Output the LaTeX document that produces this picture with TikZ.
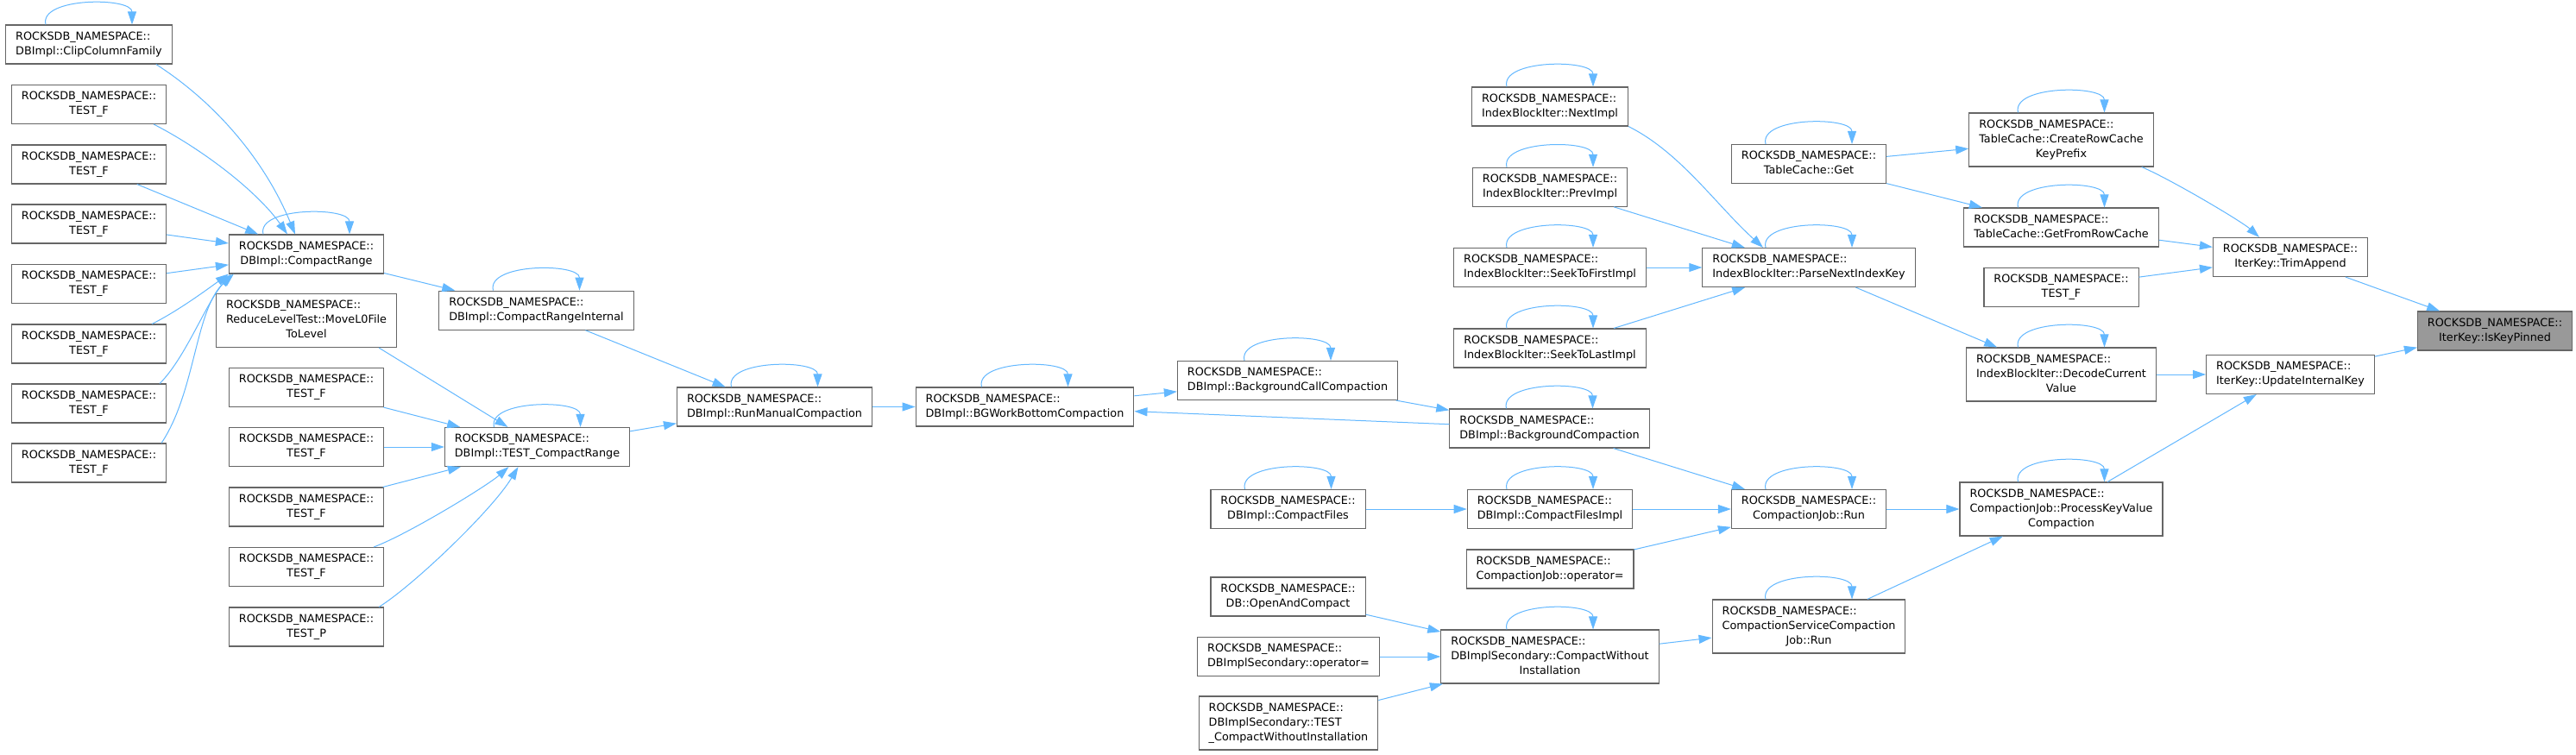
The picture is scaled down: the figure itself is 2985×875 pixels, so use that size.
\documentclass[tikz,border=0pt]{standalone}
\usepackage{fontspec}
\newfontfamily\doxfont{DejaVu Sans}
\usetikzlibrary{arrows.meta}
\definecolor{doxBlue}{HTML}{63B8FF}
\definecolor{doxBorder}{HTML}{666666}
\definecolor{doxFill}{HTML}{999999}
% two and three line labels, doxygen style
\newcommand{\fnA}[1]{\begin{tabular}{@{}l@{}}ROCKSDB\_NAMESPACE::\\\multicolumn{1}{@{}c@{}}{#1}\end{tabular}}
\newcommand{\fnB}[2]{\begin{tabular}{@{}l@{}}ROCKSDB\_NAMESPACE::\\#1\\\multicolumn{1}{@{}c@{}}{#2}\end{tabular}}
\tikzset{
  arrowC/.style={-{Triangle[length=15pt,width=10pt]}, doxBlue, line width=1pt},
  boxF/.style={rectangle, draw=doxBorder, fill=white, line width=1.1pt,
               inner xsep=11.5pt, inner ysep=5.5pt,
               font=\doxfont\fontsize{12.8}{17}\selectfont},
  boxHi/.style={boxF, fill=doxFill},
}
\begin{document}
\begin{tikzpicture}[x=1pt, y=1pt]
  \path[use as bounding box, fill=white] (0,0) rectangle (2985,-875);
  % first column
  \node[boxF] (cf) at (103,-51.5) {\fnA{DBImpl::ClipColumnFamily}};
  \foreach \i/\y in {1/121,2/190.5,3/259.5,4/329,5/398.5,6/467.5,7/536.5}
    \node[boxF] (tfa\i) at (103,-\y) {\fnA{TEST\_F}};
  % second column
  \node[boxF] (cr) at (355,-294.5) {\fnA{DBImpl::CompactRange}};
  \node[boxF] (rlt) at (355,-371.5) {\fnB{ReduceLevelTest::MoveL0File}{ToLevel}};
  \foreach \i/\y in {1/449,2/518,3/587.5,4/657}
    \node[boxF] (tfb\i) at (355,-\y) {\fnA{TEST\_F}};
  \node[boxF] (tp) at (355,-726.5) {\fnA{TEST\_P}};
  % third to fifth column
  \node[boxF] (cri) at (621.5,-359.7) {\fnA{DBImpl::CompactRangeInternal}};
  \node[boxF] (tcr) at (622.5,-518) {\fnA{DBImpl::TEST\_CompactRange}};
  \node[boxF] (rmc) at (897.5,-471.5) {\fnA{DBImpl::RunManualCompaction}};
  \node[boxF] (bgw) at (1187.5,-471.5) {\fnA{DBImpl::BGWorkBottomCompaction}};
  % sixth column
  \node[boxF] (bcc) at (1492,-441) {\fnA{DBImpl::BackgroundCallCompaction}};
  \node[boxF] (cfs) at (1492.5,-590) {\fnA{DBImpl::CompactFiles}};
  \node[boxF] (oac) at (1492.5,-691.5) {\fnA{DB::OpenAndCompact}};
  \node[boxF] (dso) at (1493,-761) {\fnA{DBImplSecondary::operator=}};
  \node[boxF] (dst) at (1493,-838) {\fnB{DBImplSecondary::TEST}{\_CompactWithoutInstallation}};
  % seventh column
  \node[boxF] (ni) at (1796,-123.5) {\fnA{IndexBlockIter::NextImpl}};
  \node[boxF] (pi) at (1796,-216.8) {\fnA{IndexBlockIter::PrevImpl}};
  \node[boxF] (sfi) at (1796,-310) {\fnA{IndexBlockIter::SeekToFirstImpl}};
  \node[boxF] (sli) at (1796,-403.5) {\fnA{IndexBlockIter::SeekToLastImpl}};
  \node[boxF] (bgc) at (1795.5,-496.5) {\fnA{DBImpl::BackgroundCompaction}};
  \node[boxF] (cfi) at (1796,-590) {\fnA{DBImpl::CompactFilesImpl}};
  \node[boxF] (cjo) at (1796,-659.5) {\fnA{CompactionJob::operator=}};
  \node[boxF] (cwi) at (1796,-761) {\fnB{DBImplSecondary::CompactWithout}{Installation}};
  % eighth column
  \node[boxF] (tcg) at (2096,-190) {\fnA{TableCache::Get}};
  \node[boxF] (pnk) at (2096,-310) {\fnA{IndexBlockIter::ParseNextIndexKey}};
  \node[boxF] (cjr) at (2096,-590) {\fnA{CompactionJob::Run}};
  \node[boxF] (csr) at (2096,-726) {\fnB{CompactionServiceCompaction}{Job::Run}};
  % ninth column
  \node[boxF] (crk) at (2388.5,-162) {\fnB{TableCache::CreateRowCache}{KeyPrefix}};
  \node[boxF] (gfr) at (2388.5,-263.5) {\fnA{TableCache::GetFromRowCache}};
  \node[boxF] (tfc) at (2388.5,-333) {\fnA{TEST\_F}};
  \node[boxF] (dcv) at (2388.5,-434) {\fnB{IndexBlockIter::DecodeCurrent}{Value}};
  \node[boxF] (pkv) at (2388.5,-590) {\fnB{CompactionJob::ProcessKeyValue}{Compaction}};
  % last columns
  \node[boxF] (ta) at (2654,-298) {\fnA{IterKey::TrimAppend}};
  \node[boxF] (uik) at (2654,-434) {\fnA{IterKey::UpdateInternalKey}};
  \node[boxHi] (ikp) at (2891,-383.5) {\fnA{IterKey::IsKeyPinned}};

  % callers of CompactRange
  \draw[arrowC] ([xshift=-19pt]cf.south east) .. controls +(70,-45) and +(-35,85) .. ([xshift=-13pt]cr.north);
  \draw[arrowC] ([xshift=-15pt]tfa1.south east) .. controls +(55,-28) and +(-35,50) .. ([xshift=-22pt]cr.north);
  \foreach \i in {2,3,4}
    \draw[arrowC] (tfa\i) -- (cr);
  \draw[arrowC] ([xshift=-17pt]tfa5.north east) .. controls +(30,15) and +(-25,-18) .. (cr.south west);
  \draw[arrowC] ([xshift=-8pt]tfa6.north east) .. controls +(30,30) and +(-30,-35) .. ([xshift=3pt]cr.south west);
  \draw[arrowC] ([xshift=-6pt]tfa7.north east) .. controls +(40,60) and +(-45,-40) .. ([xshift=6pt]cr.south west);
  % callers of TEST_CompactRange
  \draw[arrowC] ([xshift=-21pt]rlt.south east) -- ([xshift=-34pt]tcr.north);
  \foreach \i in {1,2,3}
    \draw[arrowC] (tfb\i) -- (tcr);
  \draw[arrowC] ([xshift=-12pt]tfb4.north east) .. controls +(40,15) and +(-25,-22) .. ([xshift=-33pt]tcr.south);
  \draw[arrowC] ([xshift=-6pt]tp.north east) .. controls +(40,25) and +(-30,-50) .. ([xshift=-22pt]tcr.south);
  % compaction chain
  \draw[arrowC] (cr) -- (cri);
  \draw[arrowC] (cri) -- (rmc);
  \draw[arrowC] (tcr) -- (rmc);
  \draw[arrowC] (rmc) -- (bgw);
  \draw[arrowC] (bgw) -- (bcc);
  \draw[arrowC] (bcc) -- (bgc);
  \draw[arrowC] (bgc) -- (bgw);
  \draw[arrowC] (bgc) -- (cjr);
  \draw[arrowC] (cfs) -- (cfi);
  \draw[arrowC] (cfi) -- (cjr);
  \draw[arrowC] (cjo) -- (cjr);
  \draw[arrowC] (cjr) -- (pkv);
  \foreach \n in {oac,dso,dst}
    \draw[arrowC] (\n) -- (cwi);
  \draw[arrowC] (cwi) -- (csr);
  \draw[arrowC] (csr) -- (pkv);
  \draw[arrowC] (pkv) -- (uik);
  % index block iterator
  \draw[arrowC] (ni.south east) .. controls +(60,-30) and +(-55,50) .. ([xshift=-53pt]pnk.north);
  \foreach \n in {pi,sfi,sli}
    \draw[arrowC] (\n) -- (pnk);
  \draw[arrowC] (pnk) -- (dcv);
  \draw[arrowC] (dcv) -- (uik);
  % table cache
  \draw[arrowC] (tcg) -- (crk);
  \draw[arrowC] (tcg) -- (gfr);
  \draw[arrowC] ([xshift=-14pt]crk.south east) .. controls +(35,-15) and +(-20,18) .. ([xshift=-36pt]ta.north);
  \draw[arrowC] (gfr) -- (ta);
  \draw[arrowC] (tfc) -- (ta);
  \draw[arrowC] (ta) -- (ikp);
  \draw[arrowC] (uik) -- (ikp);
  % recursive calls
  \foreach \n in {cf,cr,cri,tcr,rmc,bgw,bcc,bgc,cfs,cfi,cjr,cwi,csr,pkv,ni,pi,sfi,sli,tcg,pnk,crk,gfr,dcv}
    \draw[arrowC] ([xshift=-50pt]\n.north) .. controls +(-8,32) and +(0,32) .. ([xshift=50pt]\n.north);
\end{tikzpicture}
\end{document}
